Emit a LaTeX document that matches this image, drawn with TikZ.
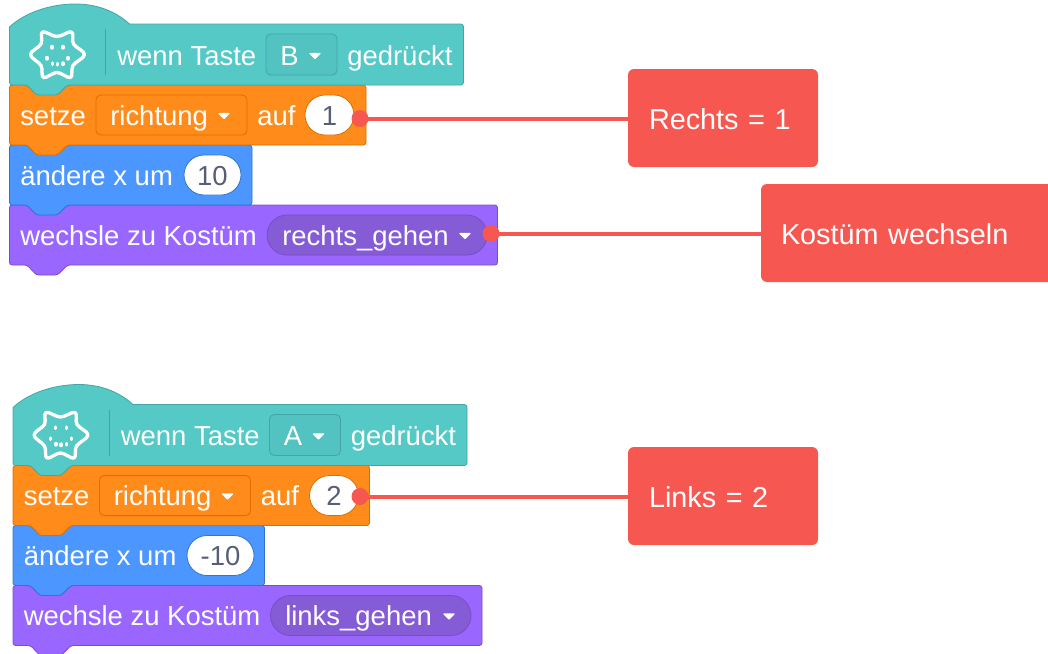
\documentclass[tikz,border=0pt]{standalone}
\usepackage{fontspec}
\setmainfont{Liberation Sans}
\definecolor{tealF}{HTML}{55C9C6}
\definecolor{tealS}{HTML}{45A5A3}
\definecolor{tealD}{HTML}{52C3C0}
\definecolor{orangeF}{HTML}{FF8C1A}
\definecolor{orangeS}{HTML}{DB6E00}
\definecolor{blueF}{HTML}{4C97FF}
\definecolor{blueS}{HTML}{3373CC}
\definecolor{purpleF}{HTML}{9966FF}
\definecolor{purpleS}{HTML}{774DCB}
\definecolor{purpleD}{HTML}{855CD6}
\definecolor{noteRed}{HTML}{F65750}
\definecolor{valueInk}{HTML}{575E75}
\newcommand{\stackblock}[5]{% colour, x0, y0, x1, y1
  \path[fill=#1F,draw=#1S,line width=0.6pt,rounded corners=2pt]
    (#2,#3) -- ({#2+17.5},#3) -- ({#2+27},{#3+9.5}) -- ({#2+48},{#3+9.5}) -- ({#2+58},#3)
    -- (#4,#3) -- (#4,#5) -- ({#2+58},#5) -- ({#2+48},{#5+10}) -- ({#2+27},{#5+10})
    -- ({#2+17.5},#5) -- (#2,#5) -- cycle;}
\newcommand{\hatblock}[5]{% colour, x0, y0, x1, y1
  \path[fill=#1F,draw=#1S,line width=0.6pt]
    (#2,{#3+3}) .. controls ({#2+15},{#3-11}) and ({#2+40},{#3-20}) .. ({#2+66},{#3-20})
    .. controls ({#2+90},{#3-20}) and ({#2+108},{#3-11}) .. ({#2+120},#3)
    [rounded corners=2pt] -- (#4,#3) -- (#4,#5) -- ({#2+58},#5) -- ({#2+48},{#5+10}) -- ({#2+27},{#5+10})
    -- ({#2+17.5},#5) -- (#2,#5) -- (#2,{#3+3});}
\newcommand{\droparrow}[2]{%
  \path[fill=white,draw=white,line width=0.9pt,line join=round]
    ({#1-5},{#2-2.5}) -- ({#1+5},{#2-2.5}) -- (#1,{#2+2.5}) -- cycle;}
\newcommand{\eventicon}{%
  \draw[white,line width=2.5pt,line join=round]
    plot[smooth cycle,tension=0.62] coordinates {
      (57,36.5) (71.5,32) (73.5,44) (84.5,54.5) (73,65.5) (70.5,77.5)
      (57,72.5) (43.5,77.5) (41,65.5) (30.5,54.5) (41,44) (42.5,32)};
  \foreach \px/\py in {52/46.5,63/46.5,47/57.5,68/57.5,52.5/63,57.5/63.5,63/63}
    \draw[white,line width=2.5pt,line cap=round] (\px,\py) -- (\px,{\py+1.5});}
\tikzset{
  word/.style={inner sep=0pt,anchor=base west,text=white,font=\fontsize{20.6pt}{24pt}\selectfont},
  value/.style={inner sep=0pt,anchor=base,text=valueInk,font=\fontsize{20.6pt}{24pt}\selectfont},
  menubox/.style={line width=0.6pt,rounded corners=3.5pt},
  pillbox/.style={line width=0.6pt,rounded corners=15pt},
  notebox/.style={inner sep=0pt,outer sep=0pt,anchor=north west,minimum height=73.5pt,yshift=-0.75pt,
    text=white,font=\fontsize{21.6pt}{26pt}\selectfont,align=left},
  link/.style={noteRed,line width=3pt},
  pin/.style={circle,fill=noteRed,inner sep=0pt,minimum size=12.75pt}
}
\begin{document}
\begin{tikzpicture}[x=0.75pt,y=-0.75pt]
\useasboundingbox (0,0) rectangle (1048,653);
% ---------- first script
\stackblock{purple}{9.5}{205}{497.5}{265}
\stackblock{blue}{9.5}{145}{252}{205}
\stackblock{orange}{9.5}{85}{366}{145}
\hatblock{teal}{9.5}{24}{463.5}{85}
\draw[tealS,line width=0.75pt] (105.5,29) -- (105.5,75);
\eventicon
\node[word] (a1) at (117,65) {wenn Taste};
\path[menubox,fill=tealD,draw=tealS] (266,34) rectangle (337,75);
\node[word] (a2) at (280,65) {B};
\droparrow{315}{56}
\node[word] (a3) at (347,65) {gedrückt};
\node[word] (b1) at (20,125) {setze};
\path[menubox,fill=orangeF,draw=orangeS] (96,95) rectangle (247,135);
\node[word] (b2) at (110,125) {richtung};
\droparrow{224}{116}
\node[word] (b3) at (257,125) {auf};
\path[pillbox,fill=white,draw=orangeS] (305,95) rectangle (354,135);
\node[value] (b4) at (329.5,125) {1};
\node[word] (c1) at (20,185) {ändere x um};
\path[pillbox,fill=white,draw=blueS] (184,155) rectangle (241,195);
\node[value] (c2) at (212.5,185) {10};
\node[word] (d1) at (20,245) {wechsle zu Kostüm};
\path[pillbox,fill=purpleD,draw=purpleS] (267,215) rectangle (487,255);
\node[word] (d2) at (282,245) {rechts\_gehen};
\droparrow{465}{236}
% ---------- second script
\begin{scope}[shift={(3.5,380.5)}]
\stackblock{purple}{9.5}{205}{478.5}{265}
\stackblock{blue}{9.5}{145}{261}{205}
\stackblock{orange}{9.5}{85}{366}{145}
\hatblock{teal}{9.5}{24}{463.5}{85}
\draw[tealS,line width=0.75pt] (105.5,29) -- (105.5,75);
\eventicon
\node[word] (e1) at (117,65) {wenn Taste};
\path[menubox,fill=tealD,draw=tealS] (266,34) rectangle (337,75);
\node[word] (e2) at (280,65) {A};
\droparrow{315}{56}
\node[word] (e3) at (347,65) {gedrückt};
\node[word] (f1) at (20,125) {setze};
\path[menubox,fill=orangeF,draw=orangeS] (96,95) rectangle (247,135);
\node[word] (f2) at (110,125) {richtung};
\droparrow{224}{116}
\node[word] (f3) at (257,125) {auf};
\path[pillbox,fill=white,draw=orangeS] (306,95) rectangle (355,135);
\node[value] (f4) at (330.5,125) {2};
\node[word] (g1) at (20,185) {ändere x um};
\path[pillbox,fill=white,draw=blueS] (183.5,155) rectangle (250.5,195);
\node[value] (g2) at (217,185) {-10};
\node[word] (h1) at (20,245) {wechsle zu Kostüm};
\path[pillbox,fill=purpleD,draw=purpleS] (267,215) rectangle (467.5,255);
\node[word] (h2) at (281.5,245) {links\_gehen};
\droparrow{445.5}{236}
\end{scope}
% ---------- notes
\path[fill=noteRed,rounded corners=4.5pt] (628,69) rectangle (818,167);
\node[notebox,minimum width=142.5pt,text width=111pt] (rechts) at (628,69) {Rechts = 1};
\path[fill=noteRed,rounded corners=4.5pt] (628,447) rectangle (818,545);
\node[notebox,minimum width=142.5pt,text width=111pt] (links) at (628,447) {Links = 2};
\path[fill=noteRed] (1048,282) [rounded corners=4.5pt] -- (761,282) -- (761,184) [sharp corners] -- (1048,184) -- cycle;
\node[notebox,minimum width=215.25pt,text width=185.25pt] (kostuem) at (761,184) {Kostüm wechseln};
% ---------- connectors
\node[pin] (p1) at (360,118.5) {};
\node[pin] (p2) at (491,233.5) {};
\node[pin] (p3) at (360,496.5) {};
\draw[link] (p1.center) -- (p1.center -| rechts.west);
\draw[link] (p2.center) -- (p2.center -| kostuem.west);
\draw[link] (p3.center) -- (p3.center -| links.west);
\end{tikzpicture}
\end{document}
